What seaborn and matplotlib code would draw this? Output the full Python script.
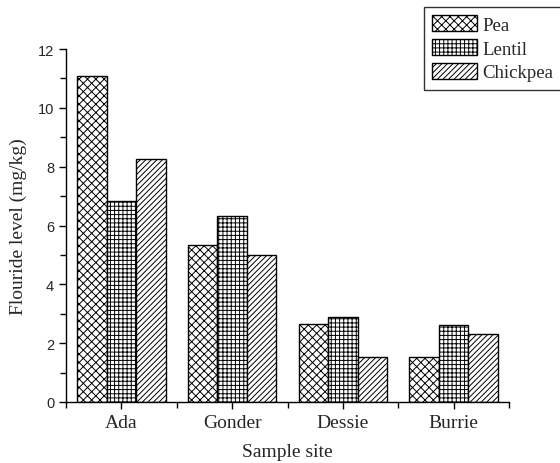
import numpy as np
import pandas as pd
import matplotlib
matplotlib.use("Agg")
import matplotlib.pyplot as plt
import seaborn as sns
from matplotlib.patches import Patch
from matplotlib.ticker import MultipleLocator, FixedLocator

# Data
sites = ["Ada", "Gonder", "Dessie", "Burrie"]
pea = [11.08, 5.34, 2.64, 1.52]
lentil = [6.83, 6.32, 2.88, 2.63]
chickpea = [8.26, 5.00, 1.52, 2.30]
crops = ["Pea", "Lentil", "Chickpea"]

df = pd.DataFrame({
    "site": sites * 3,
    "crop": ["Pea"] * 4 + ["Lentil"] * 4 + ["Chickpea"] * 4,
    "value": pea + lentil + chickpea,
})

sns.set_style("ticks")
plt.rcParams["hatch.linewidth"] = 0.7

fig = plt.figure(figsize=(5.6, 4.64), dpi=100)
ax = fig.add_axes([66 / 560, 1 - 403 / 464, (509 - 66) / 560, (403 - 50) / 464])

sns.barplot(data=df, x="site", y="value", hue="crop", order=sites, hue_order=crops,
            palette=["white"] * 3, edgecolor="black", linewidth=1.0,
            width=0.8, ax=ax, legend=False)

hatches = ["xxxx", "++++", "//////"]
for cont, h in zip(ax.containers, hatches):
    for bar in cont:
        bar.set_hatch(h)
        bar.set_edgecolor("black")

ax.set_xlim(-0.5, 3.5)
ax.set_ylim(0, 12)
ax.yaxis.set_major_locator(MultipleLocator(2))
ax.yaxis.set_minor_locator(MultipleLocator(1))
ax.xaxis.set_minor_locator(FixedLocator([-0.5, 0.5, 1.5, 2.5, 3.5]))
sns.despine(ax=ax)
for sp in ["left", "bottom"]:
    ax.spines[sp].set_linewidth(1.0)
    ax.spines[sp].set_color("black")

ax.tick_params(axis="both", which="both", direction="out", color="black", width=1.0)
ax.tick_params(axis="both", which="major", length=5)
ax.tick_params(axis="both", which="minor", length=4)
ax.tick_params(axis="y", labelsize=10.5)

for lab in ax.get_yticklabels():
    lab.set_family("Liberation Sans")
for lab in ax.get_xticklabels():
    lab.set_family("Liberation Serif")
    lab.set_fontsize(14)

ax.set_xlabel("Sample site", family="Liberation Serif", fontsize=14, labelpad=9)
ax.set_ylabel("Flouride level (mg/kg)", family="Liberation Serif", fontsize=14, labelpad=8)

handles = [Patch(facecolor="white", edgecolor="black", hatch=h, label=c)
           for h, c in zip(hatches, crops)]
leg = fig.legend(handles=handles, loc="upper left", bbox_to_anchor=(424 / 560, 1 - 8 / 464),
                 prop={"family": "Liberation Serif", "size": 13.5}, frameon=True, fancybox=False,
                 edgecolor="black", borderpad=0.45, labelspacing=0.3, handlelength=2.4,
                 handleheight=0.9, handletextpad=0.25, borderaxespad=0)
leg.get_frame().set_linewidth(1.0)

fig.savefig("out.png", dpi=100)
